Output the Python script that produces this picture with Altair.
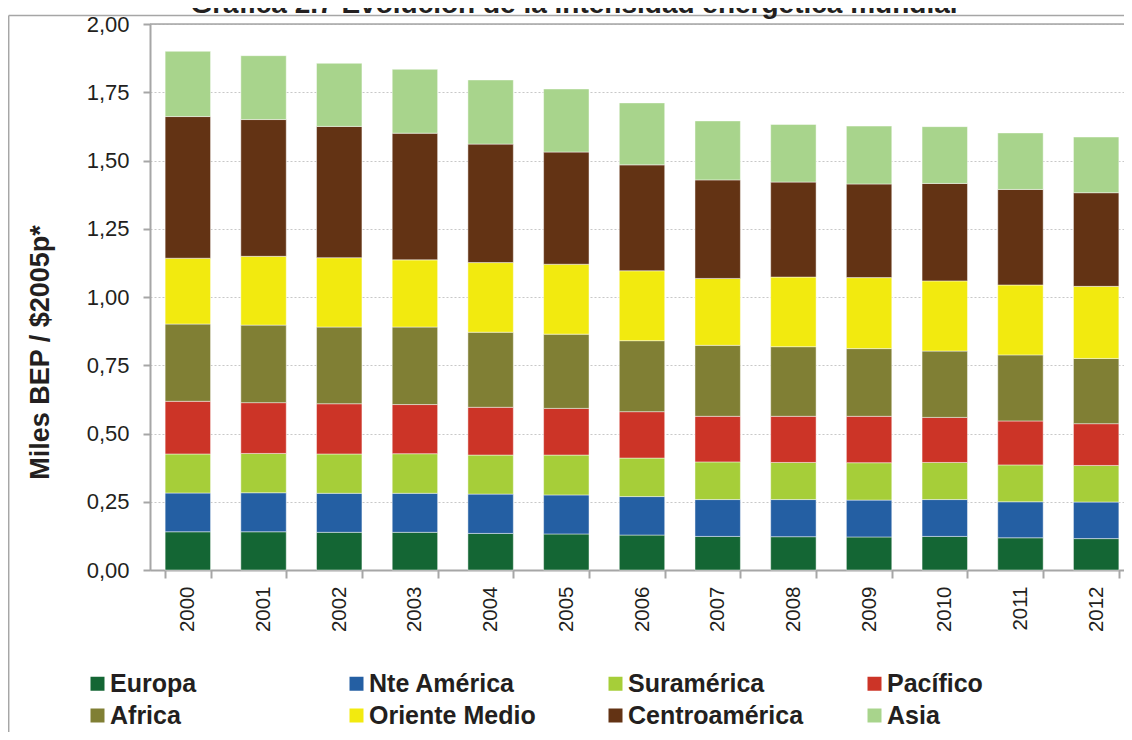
import altair as alt
import pandas as pd

years = ["2000", "2001", "2002", "2003", "2004", "2005", "2006",
         "2007", "2008", "2009", "2010", "2011", "2012"]

series = ["Europa", "Nte América", "Suramérica", "Pacífico",
          "Africa", "Oriente Medio", "Centroamérica", "Asia"]

colors = ["#146634", "#245FA3", "#A6CE39", "#CC3427",
          "#807F34", "#F2EA0F", "#633314", "#A8D48C"]

europa        = [0.140, 0.140, 0.138, 0.138, 0.134, 0.132, 0.128, 0.123, 0.122, 0.121, 0.123, 0.118, 0.115]
nte_america   = [0.142, 0.143, 0.143, 0.143, 0.144, 0.143, 0.141, 0.135, 0.136, 0.135, 0.135, 0.132, 0.134]
suramerica    = [0.143, 0.144, 0.144, 0.145, 0.143, 0.146, 0.141, 0.138, 0.136, 0.137, 0.136, 0.135, 0.134]
pacifico      = [0.193, 0.186, 0.184, 0.180, 0.175, 0.171, 0.170, 0.167, 0.169, 0.170, 0.165, 0.161, 0.153]
africa        = [0.283, 0.284, 0.281, 0.284, 0.275, 0.272, 0.260, 0.260, 0.255, 0.248, 0.243, 0.242, 0.239]
oriente_medio = [0.241, 0.252, 0.254, 0.246, 0.255, 0.256, 0.256, 0.245, 0.255, 0.260, 0.257, 0.256, 0.264]
centroamerica = [0.519, 0.501, 0.481, 0.464, 0.434, 0.411, 0.388, 0.361, 0.348, 0.343, 0.357, 0.350, 0.343]
asia          = [0.239, 0.234, 0.231, 0.234, 0.235, 0.231, 0.227, 0.216, 0.211, 0.212, 0.208, 0.207, 0.204]

y_ticks = [0, 0.25, 0.5, 0.75, 1.0, 1.25, 1.5, 1.75, 2.0]

TITLE = "Gráfica 2.7 Evolución de la intensidad energética mundial"
Y_TITLE = "Miles BEP / $2005p*"

values = [europa, nte_america, suramerica, pacifico,
          africa, oriente_medio, centroamerica, asia]

rows = []
for si, (name, vals) in enumerate(zip(series, values)):
    for yr, v in zip(years, vals):
        rows.append({"year": yr, "serie": name, "value": v, "idx": si})
df = pd.DataFrame(rows)

FONT = "Liberation Sans"
TXT = "#231F20"
GRAY = "#A6A6A6"

bars = alt.Chart(df).mark_bar(
    stroke="#ffffff", strokeOpacity=0.45, strokeWidth=1
).encode(
    x=alt.X("year:N", sort=years,
            scale=alt.Scale(paddingInner=0.4, paddingOuter=0.2),
            axis=alt.Axis(title=None, labelAngle=270, labelFontSize=20.5,
                          labelColor=TXT, labelPadding=8, tickSize=8,
                          tickBand="extent", tickColor=GRAY, tickWidth=2,
                          domainColor=GRAY, domainWidth=2, grid=False)),
    y=alt.Y("sum(value):Q", stack="zero",
            scale=alt.Scale(domain=[0, 2], nice=False),
            axis=alt.Axis(values=y_ticks,
                          labelExpr="replace(format(datum.value, '.2f'), '.', ',')",
                          title=Y_TITLE, titleFontSize=27, titleFontWeight="bold",
                          titleColor=TXT, titleX=-110, titleY=328, titleAngle=270,
                          titleAlign="center", titleBaseline="middle",
                          labelFontSize=22, labelColor=TXT, labelPadding=14,
                          tickSize=7, tickColor=GRAY, tickWidth=2,
                          domainColor=GRAY, domainWidth=2,
                          gridColor="#C8C8C8", gridDash=[2, 2], gridWidth=1.2)),
    color=alt.Color("serie:N",
                    scale=alt.Scale(domain=series, range=colors),
                    legend=alt.Legend(orient="none", legendX=-65, legendY=647,
                                      direction="horizontal",
                                      columns=4, title=None, symbolType="square",
                                      symbolSize=196, symbolStrokeWidth=0,
                                      labelFontSize=25, labelFont=FONT,
                                      labelFontWeight="bold", labelColor=TXT,
                                      labelLimit=400, labelOffset=0,
                                      columnPadding=58, rowPadding=6,
                                      gridAlign="all", padding=0)),
    order=alt.Order("idx:Q", sort="ascending"),
)

one = pd.DataFrame({"a": [0]})

top_rule = alt.Chart(one).mark_rule(color=GRAY, strokeWidth=1.5).encode(
    y=alt.datum(2.0), x=alt.value(0), x2=alt.value(1000)
)

frame_left = alt.Chart(one).mark_rule(color=GRAY, strokeWidth=1.5).encode(
    x=alt.value(-141.3), y=alt.value(-8.5), y2=alt.value(720)
)
frame_top = alt.Chart(one).mark_rule(color=GRAY, strokeWidth=1.5).encode(
    x=alt.value(-141.3), x2=alt.value(1000), y=alt.value(-8.5)
)

title = alt.Chart(pd.DataFrame({"t": [TITLE]})).mark_text(
    font=FONT, fontSize=28, fontWeight="bold", color=TXT,
    align="center", baseline="alphabetic"
).encode(text="t:N", x=alt.value(424), y=alt.value(-11))

chart = alt.layer(bars, top_rule, frame_left, frame_top, title).properties(
    width=984, height=546,
    autosize=alt.AutoSizeParams(type="none"),
    padding={"left": 142, "top": 16, "right": -10, "bottom": 162},
).configure_view(stroke=None).configure(font=FONT)

chart.save("out.html", embed_options={"renderer": "svg", "actions": False})
